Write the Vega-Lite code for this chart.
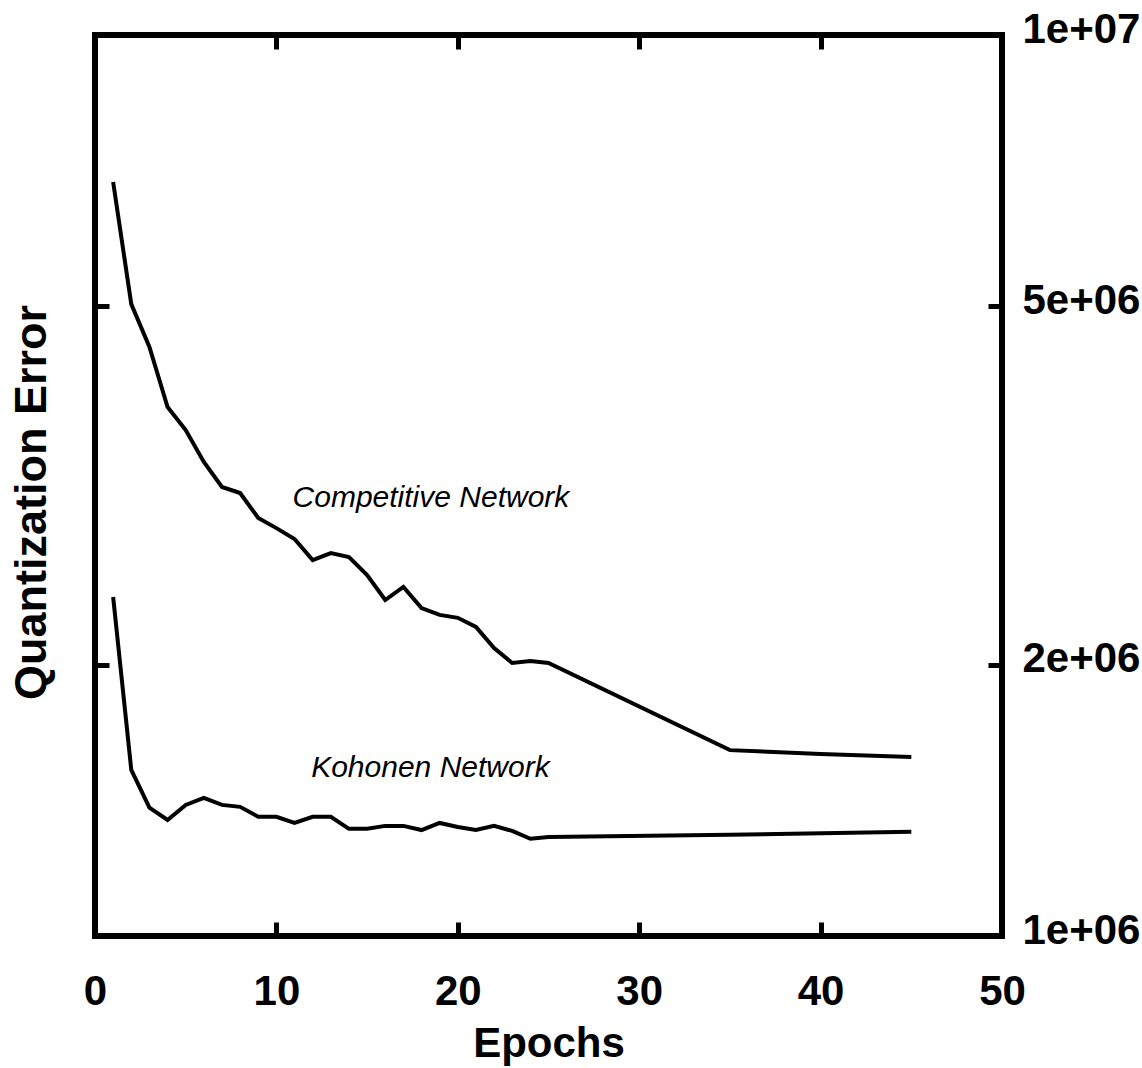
{
  "$schema": "https://vega.github.io/schema/vega-lite/v6.json",
  "width": 907,
  "height": 901,
  "autosize": {"type": "none"},
  "padding": {"left": 95, "top": 35, "right": 140, "bottom": 132},
  "background": "white",
  "config": {
    "view": {"stroke": "black", "strokeWidth": 6},
    "axis": {
      "domain": false,
      "grid": false,
      "tickColor": "black",
      "tickWidth": 5,
      "tickSize": -14,
      "labelFont": "Liberation Sans",
      "labelFontWeight": "bold",
      "labelFontSize": 42,
      "labelColor": "black",
      "titleFont": "Liberation Sans",
      "titleFontWeight": "bold",
      "titleFontSize": 42,
      "titleColor": "black",
      "labelFlush": false,
      "labelOverlap": false,
      "labelBound": false
    }
  },
  "layer": [
    {
      "data": {
        "values": [
          {"network": "Competitive", "epoch": 1, "error": 6867000},
          {"network": "Competitive", "epoch": 2, "error": 5027000},
          {"network": "Competitive", "epoch": 3, "error": 4505000},
          {"network": "Competitive", "epoch": 4, "error": 3865000},
          {"network": "Competitive", "epoch": 5, "error": 3644000},
          {"network": "Competitive", "epoch": 6, "error": 3358000},
          {"network": "Competitive", "epoch": 7, "error": 3150000},
          {"network": "Competitive", "epoch": 8, "error": 3102000},
          {"network": "Competitive", "epoch": 9, "error": 2910000},
          {"network": "Competitive", "epoch": 10, "error": 2836000},
          {"network": "Competitive", "epoch": 11, "error": 2758000},
          {"network": "Competitive", "epoch": 12, "error": 2613000},
          {"network": "Competitive", "epoch": 13, "error": 2661000},
          {"network": "Competitive", "epoch": 14, "error": 2633000},
          {"network": "Competitive", "epoch": 15, "error": 2516000},
          {"network": "Competitive", "epoch": 16, "error": 2360000},
          {"network": "Competitive", "epoch": 17, "error": 2440000},
          {"network": "Competitive", "epoch": 18, "error": 2312000},
          {"network": "Competitive", "epoch": 19, "error": 2272000},
          {"network": "Competitive", "epoch": 20, "error": 2255000},
          {"network": "Competitive", "epoch": 21, "error": 2203000},
          {"network": "Competitive", "epoch": 22, "error": 2087000},
          {"network": "Competitive", "epoch": 23, "error": 2009000},
          {"network": "Competitive", "epoch": 24, "error": 2019000},
          {"network": "Competitive", "epoch": 25, "error": 2009000},
          {"network": "Competitive", "epoch": 35, "error": 1608000},
          {"network": "Competitive", "epoch": 40, "error": 1592000},
          {"network": "Competitive", "epoch": 45, "error": 1580000},
          {"network": "Kohonen", "epoch": 1, "error": 2378000},
          {"network": "Kohonen", "epoch": 2, "error": 1529000},
          {"network": "Kohonen", "epoch": 3, "error": 1388000},
          {"network": "Kohonen", "epoch": 4, "error": 1345000},
          {"network": "Kohonen", "epoch": 5, "error": 1398000},
          {"network": "Kohonen", "epoch": 6, "error": 1423000},
          {"network": "Kohonen", "epoch": 7, "error": 1398000},
          {"network": "Kohonen", "epoch": 8, "error": 1391000},
          {"network": "Kohonen", "epoch": 9, "error": 1356000},
          {"network": "Kohonen", "epoch": 10, "error": 1356000},
          {"network": "Kohonen", "epoch": 11, "error": 1335000},
          {"network": "Kohonen", "epoch": 12, "error": 1356000},
          {"network": "Kohonen", "epoch": 13, "error": 1356000},
          {"network": "Kohonen", "epoch": 14, "error": 1315000},
          {"network": "Kohonen", "epoch": 15, "error": 1315000},
          {"network": "Kohonen", "epoch": 16, "error": 1325000},
          {"network": "Kohonen", "epoch": 17, "error": 1325000},
          {"network": "Kohonen", "epoch": 18, "error": 1311000},
          {"network": "Kohonen", "epoch": 19, "error": 1335000},
          {"network": "Kohonen", "epoch": 20, "error": 1321000},
          {"network": "Kohonen", "epoch": 21, "error": 1311000},
          {"network": "Kohonen", "epoch": 22, "error": 1325000},
          {"network": "Kohonen", "epoch": 23, "error": 1308000},
          {"network": "Kohonen", "epoch": 24, "error": 1282000},
          {"network": "Kohonen", "epoch": 25, "error": 1288000},
          {"network": "Kohonen", "epoch": 35, "error": 1295000},
          {"network": "Kohonen", "epoch": 45, "error": 1305000}
        ]
      },
      "mark": {"type": "line", "color": "black", "strokeWidth": 4},
      "encoding": {
        "x": {
          "field": "epoch",
          "type": "quantitative",
          "scale": {"domain": [0, 50], "nice": false, "zero": false},
          "axis": {
            "orient": "bottom",
            "values": [0, 10, 20, 30, 40, 50],
            "title": "Epochs",
            "labelPadding": 49,
            "labelBaseline": "top",
            "labelAlign": "center",
            "titleY": 120,
            "titleBaseline": "alphabetic"
          }
        },
        "y": {
          "field": "error",
          "type": "quantitative",
          "scale": {"type": "log", "domain": [1000000, 10000000], "nice": false},
          "axis": {
            "orient": "right",
            "values": [1000000, 2000000, 5000000, 10000000],
            "title": null,
            "labelExpr": "replace(format(datum.value, '.0e'), '+', '+0')",
            "labelPadding": 34,
            "labelOffset": -6,
            "labelBaseline": "middle",
            "labelAlign": "left"
          }
        },
        "detail": {"field": "network", "type": "nominal"}
      }
    },
    {
      "data": {
        "values": [
          {"label": "Competitive Network", "epoch": 18.52, "error": 2993000},
          {"label": "Kohonen Network", "epoch": 18.49, "error": 1502000}
        ]
      },
      "mark": {
        "type": "text",
        "font": "Liberation Sans",
        "fontStyle": "italic",
        "fontSize": 30,
        "align": "center",
        "baseline": "alphabetic",
        "color": "black"
      },
      "encoding": {
        "x": {
          "field": "epoch",
          "type": "quantitative",
          "scale": {"domain": [0, 50], "nice": false, "zero": false},
          "axis": {
            "orient": "top",
            "values": [10, 20, 30, 40],
            "labels": false,
            "title": null
          }
        },
        "y": {
          "field": "error",
          "type": "quantitative",
          "scale": {"type": "log", "domain": [1000000, 10000000], "nice": false},
          "axis": {
            "orient": "left",
            "values": [2000000, 5000000],
            "labels": false,
            "title": "Quantization Error",
            "titleX": -50,
            "titleY": 467,
            "titleAngle": 270,
            "titleAlign": "center",
            "titleBaseline": "alphabetic",
            "titleFontSize": 45
          }
        },
        "text": {"field": "label", "type": "nominal"}
      }
    }
  ]
}
